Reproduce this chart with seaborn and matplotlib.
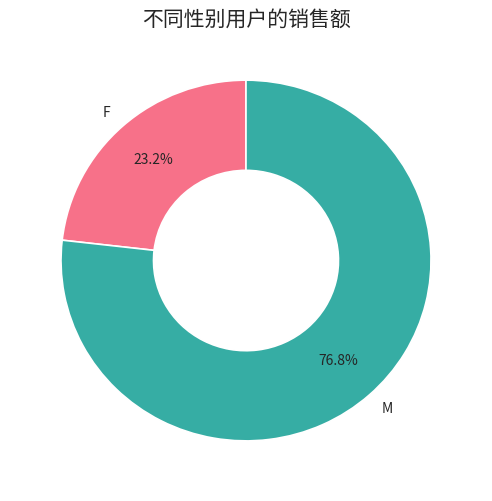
import matplotlib
matplotlib.use('Agg')
import matplotlib.pyplot as plt
import seaborn as sns

sns.set_theme(style='white')
plt.rcParams['font.family'] = ['Noto Sans CJK SC', 'DejaVu Sans']
plt.rcParams['axes.unicode_minus'] = False

# 各性别用户销售额占比
genders = ['F', 'M']
sales_share = [23.2, 76.8]

colors = sns.color_palette('husl', len(genders))

fig = plt.figure(figsize=(4.92, 5.01), dpi=100)
ax = fig.add_axes([0.030, 0.030, 0.940, 0.900])
ax.pie(sales_share, labels=genders, colors=colors, autopct='%.1f%%',
       startangle=90, pctdistance=0.75, labeldistance=1.1,
       wedgeprops=dict(width=0.5, edgecolor='white', linewidth=1.2),
       textprops=dict(fontsize=10, color='#262626'))
ax.set_title('不同性别用户的销售额', fontsize=15, color='#262626', pad=6.4)
ax.set_aspect('auto')
plt.savefig('out.png', dpi=100)
